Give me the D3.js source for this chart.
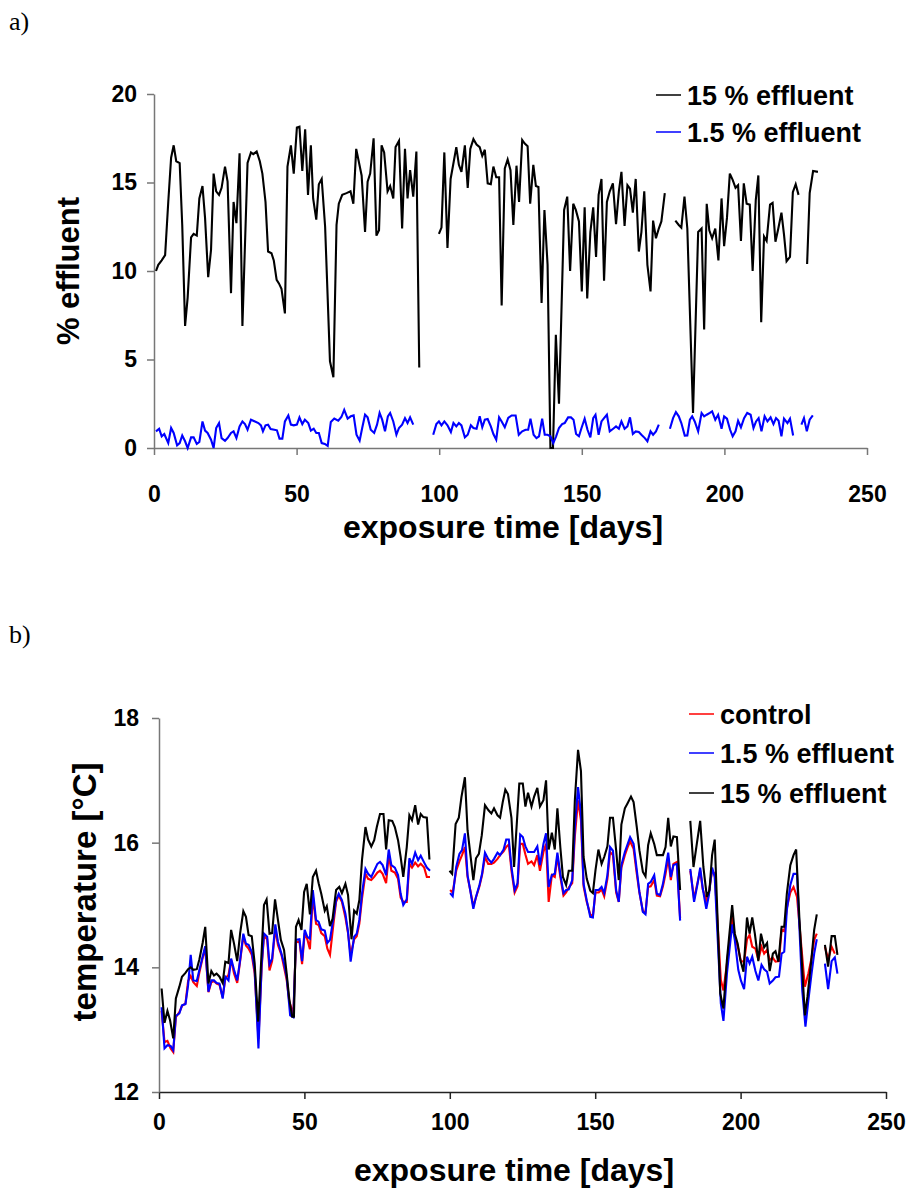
<!DOCTYPE html>
<html><head><meta charset="utf-8">
<script src="https://cdn.jsdelivr.net/npm/d3@7/dist/d3.min.js"></script>
<style>
body{margin:0;background:#fff}
svg text{font-family:"Liberation Sans",Arial,sans-serif;font-weight:bold;fill:#000}
</style>
</head><body>
<svg id="chart" width="911" height="1195"></svg>
<script>
// ---------- data (day, value); null = gap ----------
const dayTicks = [0, 50, 100, 150, 200, 250];
const effTicks = [0, 5, 10, 15, 20];
const tempTicks = [12, 14, 16, 18];
const legendA = ["15 % effluent", "1.5 % effluent"];
const legendB = ["control", "1.5 % effluent", "15 % effluent"];

const eff15 = [[0.7,10.0],[1.5,10.35],[2.7,10.6],[3.9,10.9],[5,13.9],[6,16.4],[6.9,17.1],[7.8,16.2],[9,16.1],[9.9,12.6],[10.9,6.9],[11.8,8.5],[13,11.9],[13.9,12.1],[15,12.0],[15.9,14.1],[17,14.8],[17.9,13.0],[19,9.65],[20,11.2],[20.9,15.5],[21.8,14.5],[22.8,14.3],[23.7,14.7],[24.9,15.9],[25.8,15.05],[27,8.75],[27.9,13.9],[28.9,12.7],[30,16.65],[31,6.9],[32.8,16.1],[34,16.7],[34.8,16.6],[36,16.75],[37.1,16.2],[38,15.5],[39.1,13.9],[40,11.1],[41.2,11.0],[42,10.6],[43,9.5],[43.8,9.3],[44.7,9.0],[45.9,7.6],[46.8,15.9],[48,17.1],[49,15.5],[50.1,18.1],[51,18.15],[52,15.65],[53,18.0],[54,14.3],[55,17.1],[55.8,14.1],[56.9,12.9],[57.8,14.9],[58.8,15.2],[60,12.5],[61.7,4.9],[62.9,4.0],[64,12.6],[64.8,13.8],[66,14.3],[67.5,14.4],[68.9,14.5],[69.9,13.8],[70.9,16.9],[72.8,15.4],[74,12.2],[74.9,15.05],[75.8,15.5],[77,17.5],[78,12.0],[78.9,12.3],[79.8,17.1],[80.7,16.7],[81.9,14.5],[82.8,14.8],[83.9,14.1],[84.7,17.0],[85.9,17.35],[87,12.4],[88,16.9],[88.9,14.1],[89.8,15.7],[90.9,14.2],[92,16.75],[93,4.55],null,
[99.9,12.1],[100.8,12.45],[101.8,16.7],[102.9,11.3],[104,15.2],[104.9,16.0],[106,17.0],[106.9,16.0],[107.8,15.6],[109,17.1],[110,14.7],[110.9,16.9],[112,17.45],[113.1,17.15],[114.2,17.0],[115.1,16.5],[116,16.85],[117,14.95],[118.1,14.9],[119,15.9],[120,15.3],[121,15.3],[121.9,8.05],[123,15.8],[124,16.3],[125,15.7],[126,12.6],[127.1,15.95],[128,13.9],[129.1,17.4],[130,17.2],[131,17.05],[131.9,13.8],[133,16.0],[133.9,14.8],[134.8,14.75],[135.9,8.2],[136.9,13.45],[138,10.35],[139,0],[139.9,0],[140.9,6.4],[142,2.5],[143.8,13.45],[144.9,14.2],[145.9,10.0],[147,13.8],[147.9,13.45],[149,12.8],[150,8.85],[151,13.6],[151.9,8.45],[153,12.2],[154,13.6],[155,10.8],[155.9,14.3],[156.9,15.2],[157.8,9.45],[158.8,13.9],[159.8,14.5],[160.9,14.95],[162,12.65],[163,14.5],[163.9,15.6],[165,12.55],[166,14.85],[166.9,14.65],[167.9,13.3],[168.9,15.2],[170,11.1],[170.9,12.2],[171.9,14.5],[173,10.35],[174.1,8.85],[175,12.85],[176,11.85],[177,12.4],[177.9,12.8],[179.1,14.4],null,
[182.8,12.85],[184,12.6],[184.9,12.45],[186,14.2],[187,12.4],[189,1.98],[190.8,12.2],[192,12.4],[192.9,6.7],[193.8,13.8],[194.7,12.3],[195.7,11.85],[196.8,12.4],[197.9,10.6],[199,14.1],[199.9,11.4],[200.9,13.0],[201.9,15.5],[202.9,15.15],[203.9,14.7],[204.8,14.85],[205.8,11.7],[206.8,14.95],[207.8,13.8],[208.9,13.75],[209.9,10.0],[211,14.0],[211.9,15.4],[212.9,7.1],[213.9,11.95],[214.8,11.7],[216,13.75],[216.9,13.85],[217.9,11.65],[218.9,12.4],[220,13.3],[220.9,12.05],[221.8,10.55],[223,10.8],[224,14.45],[225,14.9],[226,14.3],null,
[229,10.4],[229.9,14.4],[231.1,15.65],[232.8,15.6]];

const eff1_5 = [[0.7,0.94],[1.8,1.09],[2.7,0.66],[3.6,0.79],[5,0.28],[6,1.13],[6.9,0.85],[8.1,0.15],[9,0.28],[9.9,0.71],[10.9,0.38],[11.8,0],[13,0.6],[13.9,0.6],[15,0.23],[15.9,0.34],[17,1.5],[17.9,0.98],[18.8,0.85],[20,0.47],[20.9,0],[21.8,1.13],[22.8,1.41],[23.7,0.56],[24.9,0.41],[25.8,0.56],[27,0.85],[27.9,0.94],[28.9,0.56],[30,1.22],[31,1.5],[31.9,1.35],[32.8,1.03],[34,1.6],[35.4,1.5],[36.6,1.41],[37.5,1.28],[38.2,0.94],[39.1,1.28],[40,1.32],[40.9,1.07],[42.2,1.03],[43.1,1.0],[44,0.53],[45,0.53],[45.9,1.5],[47.1,1.84],[48,1.32],[49,1.28],[50.1,1.32],[51,1.73],[52,1.35],[52.9,1.6],[54.1,1.41],[55,0.98],[56,1.09],[56.9,0.85],[57.8,0.85],[58.8,0.28],[59.9,0.23],[60.9,0.12],[62,1.47],[63.2,1.66],[64.6,1.54],[65.7,1.75],[66.7,2.16],[67.9,1.66],[69,1.79],[70,1.84],[71,0.75],[72.1,0.41],[73,1.13],[74,1.88],[74.9,1.73],[76,1.03],[77.2,0.85],[78.2,1.32],[79.1,1.98],[80,1.6],[81,0.94],[82,1.79],[82.8,1.98],[83.9,1.5],[85,0.75],[85.9,1.13],[87,1.32],[88,1.69],[88.9,1.41],[89.8,1.73],[90.9,1.32],null,
[97.9,0.75],[99,1.35],[99.9,1.5],[100.8,1.28],[101.8,1.5],[102.9,1.28],[104.1,0.9],[105,1.41],[106,1.22],[106.9,1.41],[107.8,1.28],[109,0.6],[110,0.75],[111.1,1.28],[112,1.13],[113.1,1.09],[114.2,1.79],[115.1,1.17],[116,1.6],[117,1.64],[118.1,1.22],[119,0.79],[120,0.47],[121,1.73],[121.9,1.5],[123,1.17],[124.2,1.7],[125.4,1.84],[126.8,1.84],[127.9,0.75],[129.1,0.94],[130.3,1.03],[131.2,1.03],[132,1.66],[133.1,0.75],[134.1,0.56],[135,0.66],[136.1,1.66],[137,0.75],[138,0.75],[139,0.66],[140,0.28],[141,0.66],[142,1.13],[143.1,1.35],[144,1.41],[145.2,1.73],[146.2,1.73],[147.1,1.6],[148,0.79],[149,0.66],[149.9,1.13],[151,1.66],[152,1.03],[153,0.6],[154,1.69],[154.8,1.88],[155.9,0.75],[156.9,1.5],[157.8,1.69],[158.8,1.88],[159.8,0.94],[161,1.09],[162,1.22],[163,1.09],[163.9,1.5],[165,1.09],[166,1.22],[166.9,1.73],[167.9,0.79],[168.9,0.94],[170,0.9],[170.9,0.75],[172.1,0.56],[173,0.38],[174.1,0.94],[175,0.75],[176,0.94],[177,1.32],null,
[180.9,1.09],[182,1.69],[183,2.03],[184,1.79],[184.9,1.41],[186.1,0.7],[187,0.71],[187.9,1.6],[188.7,1.79],[189.6,1.5],[190.8,0.94],[192,1.98],[192.9,1.79],[193.8,1.88],[194.9,1.98],[195.7,2.07],[196.8,1.6],[197.8,1.88],[199,1.09],[199.9,1.79],[200.9,1.66],[202,1.03],[202.9,0.66],[203.9,0.94],[204.8,1.54],[205.8,1.17],[206.9,1.69],[208,1.98],[209.2,1.88],[210.2,1.13],[211.1,1.5],[212,1.69],[213,0.94],[214.1,1.79],[215.1,1.5],[216.2,1.73],[217.2,1.35],[218.1,1.69],[219,1.54],[220,0.66],[220.9,1.66],[222.1,1.41],[223,1.66],[224.1,0.71],null,
[227,1.32],[227.9,1.69],[228.9,0.94],[229.9,1.6],[231,1.84]];

const tempControl = [[0.9,13.3],[1.9,12.8],[2.9,12.82],[4,12.7],[4.9,12.64],[5.8,13.2],[7,13.28],[7.9,13.38],[9.1,13.42],[10,13.78],[10.9,13.86],[11.8,13.76],[13,13.7],[13.9,13.92],[15,14.15],[15.9,14.3],[17,13.6],[18,13.76],[18.9,13.78],[19.8,13.74],[20.8,13.72],[21.9,13.52],[22.8,13.82],[23.9,13.88],[24.8,14.12],[25.8,13.9],[26.9,13.75],[27.9,14.1],[29,14.5],[29.9,14.35],[30.8,14.3],[31.9,14.2],[32.9,13.9],[34.2,12.85],[35.3,14.0],[36.1,14.5],[37.2,14.45],[38,13.95],[38.9,14.1],[40,14.62],[40.9,14.36],[42.1,14.2],[43,14.0],[43.9,13.8],[44.8,13.45],[46.2,13.25],[47.1,14.4],[48.3,14.42],[49.2,14.05],[50.1,14.55],[51,14.45],[51.9,14.29],[52.9,15.15],[54,14.7],[54.9,14.68],[55.8,14.55],[57,14.5],[57.9,14.3],[58.8,14.2],[60,14.7],[60.9,15.05],[61.8,15.15],[62.9,15.05],[64.1,14.8],[65,14.55],[65.9,14.2],[67.1,14.45],[68,14.5],[68.9,14.7],[69.8,15.1],[71,15.5],[71.9,15.42],[73,15.4],[74,15.45],[75.1,15.52],[76,15.55],[76.9,15.5],[78.1,15.35],[79,15.8],[79.9,15.55],[81.1,15.52],[82.2,15.42],[83.1,15.12],[84,15.05],[85.2,15.05],[86.1,15.66],[87,15.6],[88.1,15.68],[89.1,15.62],[90,15.66],[91.2,15.6],[92.1,15.45],[93.2,15.45],null,
[100.1,15.24],[101,15.2],[102.2,15.55],[103.3,15.7],[104.2,15.8],[105.2,15.93],[106.1,15.45],[107,15.25],[108.1,14.98],[109,15.12],[110.2,15.3],[111.1,15.48],[112.1,15.77],[113.2,15.66],[114.3,15.66],[115.2,15.68],[116.4,15.74],[117.3,15.8],[118.5,15.86],[119.4,15.93],[120.3,15.97],[121.2,15.55],[122.3,15.2],[123.3,15.3],[124.2,15.98],[125.1,15.98],[126,15.81],[126.9,15.66],[128.1,15.7],[129,15.64],[130.1,15.8],[131,15.55],[132.2,15.85],[133.1,15.98],[134,15.05],[135.1,15.48],[136.1,15.45],[137,15.78],[138,15.45],[139.1,15.15],[140,15.2],[140.9,15.28],[142.1,15.35],[143,16.1],[144.1,16.68],[145.1,16.36],[146,15.3],[147.1,15.05],[148.3,14.85],[149.2,14.82],[150.1,15.2],[151.2,15.2],[152.2,15.25],[153.1,15.14],[154.2,15.42],[155.1,15.85],[156.1,15.8],[157.2,15.2],[158.1,15.05],[159,15.6],[160.2,15.8],[161.1,15.92],[162,16.02],[163.2,15.9],[164.3,15.5],[165.2,15.2],[166.4,14.9],[167.3,14.88],[168.2,15.29],[169.1,15.3],[170.3,15.4],[171.2,15.15],[172.3,15.14],[173.3,15.3],[174.2,15.5],[175.1,15.75],[176,15.4],[176.9,15.66],[178.1,15.69],[179.2,14.79],null,
[182.7,15.55],[184,15.1],[185.2,15.36],[186.1,15.55],[187,15.25],[188.2,15.08],[189.1,15.2],[190.2,15.55],[191.1,15.5],[193.2,13.8],[194.1,13.63],[195.3,14.06],[197.1,14.81],[198,14.5],[199.2,14.3],[200.1,14.1],[201.2,14.09],[202.2,14.45],[203.1,14.52],[204,14.33],[205.1,14.3],[206.1,14.12],[207.2,14.33],[208.1,14.22],[209.1,14.28],[210,14.12],[211.1,14.15],[212,14.09],[213.2,14.1],[214.1,14.6],[215,14.58],[215.9,14.95],[217.1,15.2],[218.2,15.29],[219.4,15.13],[222.1,13.69],[223.3,13.9],[224.4,14.15],[225.3,14.44],[226.2,14.54],null,
[229,14.33],[230.1,14.13],[231.3,14.33],[232.4,14.22]];

const temp1_5 = [[0.9,13.36],[1.9,12.70],[2.9,12.75],[4,12.74],[4.9,12.67],[5.8,13.22],[7,13.26],[7.9,13.39],[9.1,13.41],[10,13.71],[10.9,14.2],[11.8,13.79],[13,13.78],[13.9,13.96],[15,14.17],[15.9,14.34],[17,13.61],[18,13.79],[18.9,13.79],[19.8,13.75],[20.8,13.74],[21.9,13.5],[22.8,13.85],[23.9,13.79],[24.8,14.14],[25.8,13.96],[26.9,13.79],[27.9,14.12],[29,14.54],[29.9,14.38],[30.8,14.36],[31.9,14.25],[32.9,13.96],[34.2,12.70],[35.3,14.04],[36.1,14.54],[37.2,14.49],[38,14.05],[38.9,14.14],[40,14.69],[40.9,14.41],[42.1,14.22],[43,14.06],[43.9,13.85],[45.1,13.23],[46.2,13.2],[47.1,14.44],[48.3,14.45],[49.2,14.1],[50.1,14.6],[51,14.49],[51.9,14.46],[52.9,15.24],[54,14.76],[54.9,14.73],[55.8,14.61],[57,14.59],[57.9,14.39],[58.8,14.44],[60,14.8],[60.9,15.08],[61.8,15.18],[62.9,15.08],[64.1,14.86],[65,14.57],[65.9,14.09],[67.1,14.49],[68,14.54],[68.9,14.76],[69.8,15.18],[71,15.58],[71.9,15.5],[73,15.45],[74,15.55],[75.1,15.66],[76,15.69],[76.9,15.64],[78.1,15.48],[79,15.89],[79.9,15.64],[81.1,15.6],[82.2,15.48],[83.1,15.18],[84,15.0],[85.2,15.09],[86.1,15.75],[87,15.66],[88.1,15.84],[89.1,15.72],[90,15.79],[91.2,15.68],[92.1,15.6],[93.2,15.55],null,
[100.1,15.19],[101,15.14],[102.2,15.61],[103.3,15.82],[104.2,15.88],[105.2,16.15],[106.1,15.48],[107,15.24],[108.1,14.94],[109,15.13],[110.2,15.32],[111.1,15.5],[112.1,15.84],[113.2,15.74],[114.3,15.68],[115.2,15.74],[116.4,15.84],[117.3,15.8],[118.5,15.89],[119.4,16.05],[120.3,16.05],[121.2,15.61],[122.3,15.24],[123.3,15.35],[124.2,16.13],[125.1,16.09],[126,15.94],[126.9,15.85],[128.1,15.85],[129,15.85],[130.1,15.94],[131,15.64],[132.2,15.98],[133.1,16.15],[134,15.29],[135.1,15.48],[136.1,15.5],[137,15.84],[138,15.5],[139.1,15.19],[140,15.24],[140.9,15.25],[142.1,15.4],[143,16.25],[144.1,16.89],[145.1,16.47],[146,15.34],[147.1,15.07],[148.3,14.81],[149.2,14.8],[150.1,15.24],[151.2,15.24],[152.2,15.29],[153.1,15.19],[154.2,15.48],[155.1,15.93],[156.1,15.87],[157.2,15.24],[158.1,15.05],[159,15.64],[160.2,15.85],[161.1,15.97],[162,16.09],[163.2,15.98],[164.3,15.56],[165.2,15.21],[166.4,14.89],[167.3,14.85],[168.2,15.34],[169.1,15.37],[170.3,15.48],[171.2,15.18],[172.3,15.16],[173.3,15.34],[174.2,15.58],[175.1,15.84],[176,15.45],[176.9,15.64],[178.1,15.66],[179.2,14.75],null,
[182.7,15.58],[184,15.05],[185.2,15.34],[186.1,15.6],[187,15.26],[188.2,14.94],[189.1,15.16],[190.2,15.6],[191.1,15.45],[193.2,13.42],[194.1,13.14],[195.3,13.9],[197.1,14.69],[198,14.44],[199.2,13.96],[200.1,13.79],[201.2,13.65],[202.2,14.17],[203.1,14.06],[204,14.17],[205.1,13.94],[206.1,13.79],[207.2,14.04],[208.1,13.97],[209.1,13.93],[210,13.74],[211.1,13.79],[212,13.84],[213.2,13.85],[214.1,14.22],[215,14.25],[215.9,14.92],[217.1,15.32],[218.2,15.5],[219.4,15.5],[221.2,13.63],[222.3,13.05],[223.3,13.47],[224.4,13.9],[225.3,14.22],[226.2,14.45],null,
[229,14.06],[230.1,13.65],[231.3,14.1],[232.4,14.16],[233.3,13.9]];

const temp15 = [[0.9,13.66],[1.9,13.11],[2.9,13.30],[3.8,13.15],[4.9,12.86],[5.8,13.50],[7,13.69],[7.9,13.85],[9.1,13.91],[10,13.97],[10.9,14.0],[11.8,13.96],[13,13.97],[13.9,14.13],[15,14.39],[15.9,14.65],[17,13.74],[18,13.94],[18.9,13.87],[19.8,13.9],[20.8,13.85],[21.9,13.75],[22.8,14.09],[23.9,14.07],[24.8,14.6],[25.8,14.38],[26.9,14.1],[27.9,14.55],[29,14.9],[29.9,14.81],[30.8,14.52],[31.9,14.5],[32.9,14.06],[34.1,13.13],[36.1,15.0],[37,15.09],[38,14.54],[38.9,14.55],[39.9,15.09],[40.9,14.76],[41.9,14.44],[43,14.28],[43.9,13.9],[44.8,13.49],[45.8,13.21],[46.4,13.21],[47.1,14.65],[48,14.76],[49,14.6],[49.9,15.21],[50.8,15.34],[51.9,14.85],[52.9,15.45],[54,15.55],[54.9,15.35],[55.8,15.18],[57,14.91],[57.7,14.98],[58.8,14.66],[59.7,14.78],[60.9,15.24],[62,15.29],[62.9,15.19],[64.1,15.34],[65,15.16],[66.2,14.45],[67.1,14.91],[68,14.86],[68.9,15.08],[69.8,15.72],[71,16.25],[71.9,16.05],[73,15.94],[74,16.04],[74.9,16.25],[76,16.46],[77.2,16.46],[78.1,15.89],[79,16.36],[80.2,16.35],[81.1,16.25],[82.2,16.04],[83.1,15.77],[84,15.45],[85.2,15.93],[86.1,16.44],[87,16.36],[88.1,16.6],[89.1,16.29],[90,16.46],[90.9,16.41],[92.1,16.4],[93,15.73],null,
[99.9,15.55],[100.8,15.5],[102,16.3],[103.1,16.4],[104,16.73],[105.2,17.05],[106.1,16.2],[108.1,15.4],[109,15.75],[110,15.82],[111,16.12],[112.1,16.6],[113.3,16.52],[114.3,16.47],[115.2,16.55],[116.4,16.44],[117.3,16.4],[118.2,16.65],[119.1,16.85],[120,16.78],[121.2,16.4],[122.1,15.61],[123.9,16.95],[125.1,16.95],[126,16.58],[126.9,16.8],[128.1,16.58],[129,16.74],[130.1,16.88],[131,16.58],[132.2,16.68],[133.1,17.0],[134,15.89],[135.1,16.16],[136.1,15.89],[137,16.55],[138,15.93],[138.9,15.45],[140,15.32],[140.9,15.55],[142.1,15.55],[143,16.68],[144.1,17.49],[145.1,17.15],[146,15.77],[147.1,15.42],[148.3,15.23],[149.2,15.19],[150.1,15.56],[151.1,15.89],[152.2,15.66],[153.1,15.77],[154.2,15.94],[155.1,16.4],[156.1,16.4],[157.2,15.88],[158.1,15.4],[159,16.29],[160.2,16.55],[161.1,16.63],[162.3,16.74],[163.2,16.65],[164.3,16.25],[165.2,15.88],[166.4,15.53],[167.3,15.46],[168.2,15.96],[169.1,16.15],[170.3,15.98],[171.2,15.8],[172.3,15.8],[173.3,15.8],[174.2,15.93],[175.1,16.4],[176,15.94],[176.9,16.1],[178.1,16.09],[179.2,15.24],null,
[182.7,16.35],[183.8,15.61],[185,16.0],[186.1,16.35],[187.2,15.61],[188.4,15.13],[189.3,15.24],[190.2,15.8],[191.1,16.05],[193,13.58],[194.1,13.34],[195.3,14.12],[197.1,15.0],[198,14.54],[199,14.38],[199.9,14.12],[201,13.93],[202.2,14.8],[203.1,14.54],[204,14.8],[204.9,14.54],[206.1,14.1],[207,14.54],[208.1,14.32],[209.1,14.39],[210,13.94],[211.1,14.22],[212,14.26],[213,14.09],[214.1,14.65],[215,14.65],[215.9,15.18],[217.1,15.64],[218.2,15.8],[219.1,15.89],[220.2,14.8],[222.1,13.23],[223,13.53],[224.2,14.06],[225.3,14.6],[226.2,14.85],null,
[229,14.36],[230.1,14.01],[231.3,14.5],[232.4,14.5],[233.3,14.2]];

// ---------- drawing ----------
const svg = d3.select("#chart");
const FONT_TICK = 23, FONT_TITLE = 32, FONT_LEG = 27;

function panel(opts) {
  const x = d3.scaleLinear().domain([0, 250]).range(opts.xr);
  const y = d3.scaleLinear().domain(opts.yd).range(opts.yr);
  const g = svg.append("g");

  const xa = g.append("g").attr("transform", `translate(0,${opts.yr[0]})`)
    .call(d3.axisBottom(x).tickValues(dayTicks).tickFormat(d3.format("d"))
      .tickSize(7).tickSizeOuter(0).tickPadding(opts.xPad));
  xa.select(".domain").attr("stroke", opts.xAxisColor).attr("stroke-width", 1.5);
  xa.selectAll(".tick line").attr("stroke", opts.xAxisColor).attr("stroke-width", 1.5);
  xa.selectAll(".tick text").style("font-size", FONT_TICK + "px").attr("fill", "#000");

  const ya = g.append("g").attr("transform", `translate(${opts.xr[0]},0)`)
    .call(d3.axisLeft(y).tickValues(opts.yTicks).tickFormat(d3.format("d"))
      .tickSize(7).tickSizeOuter(0).tickPadding(opts.yPad));
  ya.select(".domain").attr("stroke", "#777").attr("stroke-width", 1.5);
  ya.selectAll(".tick line").attr("stroke", "#777").attr("stroke-width", 1.5);
  ya.selectAll(".tick text").style("font-size", FONT_TICK + "px").attr("fill", "#000");

  const line = d3.line().defined(d => d !== null).x(d => x(d[0])).y(d => y(d[1]));
  opts.series.forEach(s => {
    g.append("path").datum(s.data).attr("d", line)
      .attr("fill", "none").attr("stroke", s.color).attr("stroke-width", 2.1)
      .attr("stroke-linejoin", "miter");
  });

  opts.legend.forEach((t, i) => {
    const ly = opts.legY[i];
    g.append("line").attr("x1", opts.legX[0]).attr("x2", opts.legX[1])
      .attr("y1", ly).attr("y2", ly).attr("stroke", opts.legColors[i]).attr("stroke-width", 1.5);
    g.append("text").attr("x", opts.legX[2]).attr("y", ly).attr("dy", "0.36em")
      .style("font-size", FONT_LEG + "px").text(t);
  });

  g.append("text").attr("x", opts.xTitle[0]).attr("y", opts.xTitle[1])
    .attr("text-anchor", "middle").style("font-size", FONT_TITLE + "px").text("exposure time [days]");
  g.append("text").attr("transform", `translate(${opts.yTitle[0]},${opts.yTitle[1]}) rotate(-90)`)
    .attr("text-anchor", "middle").style("font-size", opts.yTitleSize + "px").text(opts.yLabel);
  g.append("text").attr("x", 9).attr("y", opts.tag[1])
    .style("font-family", "'Liberation Serif','Times New Roman',serif").style("font-weight", "normal")
    .style("font-size", "26px").text(opts.tag[0]);
}

panel({
  xr: [154, 867], yd: [0, 20], yr: [448, 94], yTicks: effTicks,
  xPad: 31, yPad: 10, xAxisColor: "#777",
  series: [{data: eff15, color: "#000"}, {data: eff1_5, color: "#0000ff"}],
  legend: legendA, legColors: ["#000", "#0000ff"], legX: [656, 681, 687], legY: [95, 132],
  xTitle: [503, 538], yTitle: [79, 271], yLabel: "% effluent", yTitleSize: 31, tag: ["a)", 30]
});

panel({
  xr: [159, 886], yd: [12, 18], yr: [1092, 718], yTicks: tempTicks,
  xPad: 15, yPad: 13, xAxisColor: "#222",
  series: [{data: tempControl, color: "#ff0000"}, {data: temp1_5, color: "#0000ff"}, {data: temp15, color: "#000"}],
  legend: legendB, legColors: ["#ff0000", "#0000ff", "#000"], legX: [689, 714, 720], legY: [714, 753, 793],
  xTitle: [514, 1181], yTitle: [96, 892], yLabel: "temperature [°C]", yTitleSize: 33, tag: ["b)", 643]
});
</script>
</body></html>
